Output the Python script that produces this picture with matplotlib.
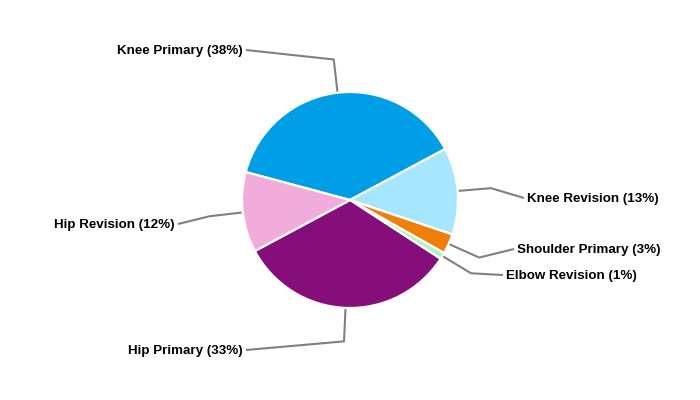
import numpy as np
import matplotlib
matplotlib.use("Agg")
from matplotlib import pyplot as plt

# data
labels = ["Knee Primary", "Knee Revision", "Shoulder Primary",
          "Elbow Revision", "Hip Primary", "Hip Revision"]
shares = [38, 13, 3, 1, 33, 12]
colors = ["#009ee6", "#a6e6ff", "#f07f09", "#b4efc0", "#860e7a", "#f2acdc"]

# where each label sits (pixels, y from top) and which side its text goes
label_pos = [(246, 50, "right"), (524, 198, "left"), (514, 249, "left"),
             (503, 275, "left"), (246, 350, "right"), (178, 224, "right")]

W, H = 700, 400
cx, cy, R = 350, 200, 108

fig = plt.figure(figsize=(7, 4), dpi=100)
ax = fig.add_axes([0, 0, 1, 1])

wedges, _ = ax.pie(shares, colors=colors, startangle=165, counterclock=False,
                   center=(cx, cy), radius=R,
                   wedgeprops=dict(edgecolor="white", linewidth=1.6))

for w, lab, val, (lx, ly, side) in zip(wedges, labels, shares, label_pos):
    mid = np.deg2rad((w.theta1 + w.theta2) / 2)
    x0 = cx + R * np.cos(mid)
    y0 = cy + R * np.sin(mid)
    x1 = cx + 1.31 * R * np.cos(mid)
    y1 = cy + 1.31 * R * np.sin(mid)
    ax.plot([x0, x1, lx], [y0, y1, H - ly], color="#808080", lw=1.5,
            solid_capstyle="butt", zorder=0)
    if side == "right":
        tx, ha = lx - 3, "right"
    else:
        tx, ha = lx + 3, "left"
    ax.text(tx, H - ly - 1, "%s (%d%%)" % (lab, val), ha=ha, va="center",
            fontsize=9.6, fontweight="bold", family="Liberation Sans",
            color="black")

ax.set_xlim(0, W)
ax.set_ylim(0, H)
ax.set_aspect("equal")
ax.axis("off")

fig.savefig("out.png", dpi=100)
